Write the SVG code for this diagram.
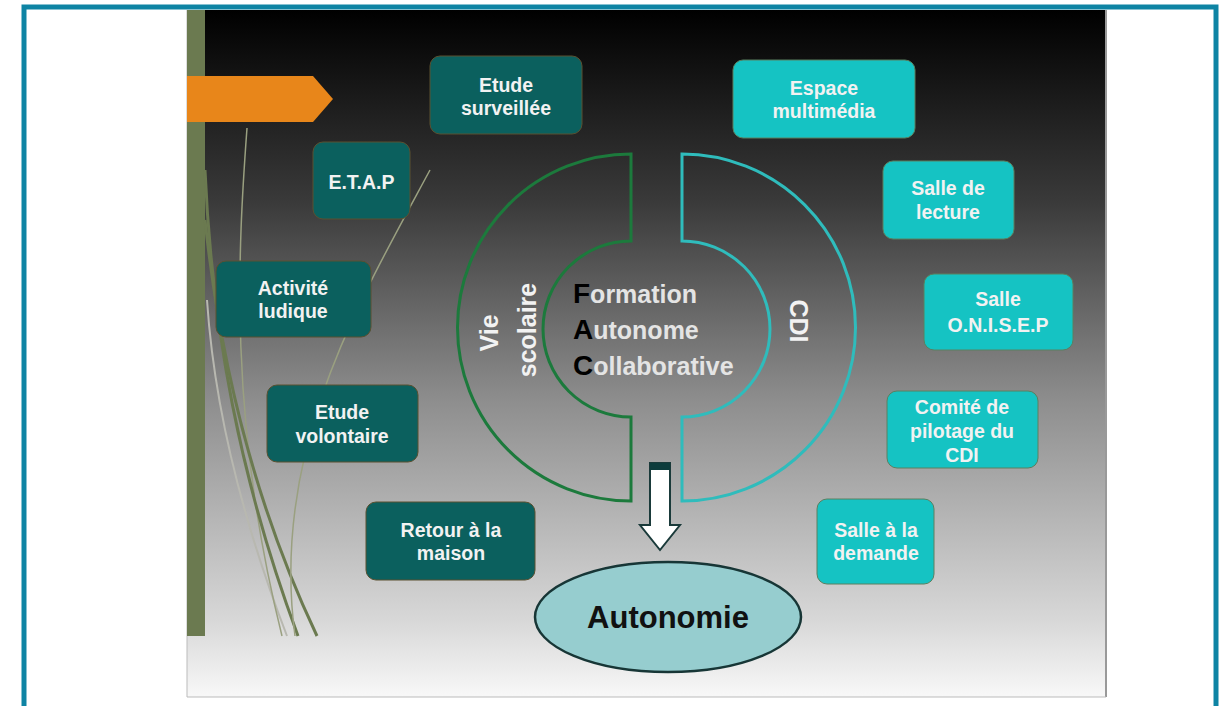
<svg xmlns="http://www.w3.org/2000/svg" width="1225" height="706" viewBox="0 0 1225 706">
<defs>
<linearGradient id="bg" x1="0" y1="0" x2="0" y2="1">
<stop offset="0" stop-color="#000000"/>
<stop offset="0.28" stop-color="#3a3a3a"/>
<stop offset="0.57" stop-color="#8e8e8e"/>
<stop offset="0.89" stop-color="#d8d8d8"/>
<stop offset="1" stop-color="#f8f8f8"/>
</linearGradient>
<style>
.dk rect{fill:#0b605e;stroke:#5a5030;stroke-width:1}
.cy rect{fill:#15c3c3;stroke:#5a8060;stroke-width:1}
.t{font-family:"Liberation Sans",Arial,sans-serif;font-weight:bold;font-size:19.5px;fill:#f2f2f2;text-anchor:middle}
.r{font-family:"Liberation Sans",Arial,sans-serif;font-weight:bold;font-size:25px;fill:#f2f2f2;text-anchor:middle}
.deco{fill:none;stroke:#6b7a50;stroke-width:3}
.deco2{fill:none;stroke:#9aa080;stroke-width:1.5}
.deco3{fill:none;stroke:#b8b8b0;stroke-width:2}
.f{font-family:"Liberation Sans",Arial,sans-serif;font-weight:bold;font-size:25px;fill:#e4e4e4}
.f tspan.k{fill:#000000;font-size:28px}
</style>
</defs>
<rect x="0" y="0" width="1225" height="706" fill="#ffffff"/>
<rect x="187" y="10" width="919" height="687" fill="url(#bg)"/>
<line x1="1106" y1="10" x2="1106" y2="697" stroke="#999" stroke-width="2"/>
<line x1="187" y1="697" x2="1106" y2="697" stroke="#bbb" stroke-width="1"/>
<line x1="187" y1="10" x2="187" y2="697" stroke="#bbb" stroke-width="1"/>
<rect x="187" y="10" width="18" height="626" fill="#6b7a50"/>
<g id="decor">
<path class="deco3" d="M207 300 C 215 420 250 540 287 636"/>
<path class="deco2" d="M247 128 C 238 250 228 420 282 636"/>
<path class="deco" d="M205 170 C 212 330 240 480 298 636"/>
<path class="deco" d="M205 220 C 222 380 262 520 317 636"/>
<path class="deco2" d="M430 170 C 360 300 270 450 295 636"/>
</g>
<polygon id="orange" points="187,76 313,76 333,99 313,122 187,122" fill="#e8861a"/>

<g id="n-etude-surveillee" class="dk"><rect x="430" y="56" width="152" height="78" rx="10"/><text class="t" x="506" y="92">Etude</text><text class="t" x="506" y="115">surveillée</text></g>
<g id="n-etap" class="dk"><rect x="313" y="142" width="97" height="77" rx="10"/><text class="t" x="361.5" y="189">E.T.A.P</text></g>
<g id="n-activite" class="dk"><rect x="216" y="261" width="155" height="76" rx="10"/><text class="t" x="293" y="295">Activité</text><text class="t" x="293" y="318">ludique</text></g>
<g id="n-etude-volontaire" class="dk"><rect x="267" y="385" width="151" height="77" rx="10"/><text class="t" x="342" y="419">Etude</text><text class="t" x="342" y="443">volontaire</text></g>
<g id="n-retour" class="dk"><rect x="366" y="502" width="169" height="78" rx="10"/><text class="t" x="451" y="537">Retour à la</text><text class="t" x="451" y="560">maison</text></g>

<g id="n-espace" class="cy"><rect x="733" y="60" width="182" height="78" rx="10"/><text class="t" x="824" y="95">Espace</text><text class="t" x="824" y="118">multimédia</text></g>
<g id="n-lecture" class="cy"><rect x="883" y="161" width="131" height="78" rx="10"/><text class="t" x="948" y="195">Salle de</text><text class="t" x="948" y="219">lecture</text></g>
<g id="n-onisep" class="cy"><rect x="924" y="274" width="149" height="76" rx="10"/><text class="t" x="998" y="306">Salle</text><text class="t" x="998" y="332">O.N.I.S.E.P</text></g>
<g id="n-comite" class="cy"><rect x="887" y="391" width="151" height="77" rx="10"/><text class="t" x="962" y="414">Comité de</text><text class="t" x="962" y="438">pilotage du</text><text class="t" x="962" y="462">CDI</text></g>
<g id="n-demande" class="cy"><rect x="817" y="499" width="117" height="85" rx="10"/><text class="t" x="876" y="537">Salle à la</text><text class="t" x="876" y="560">demande</text></g>

<g id="n-vie-scolaire">
<path d="M631 154 A173 173 0 0 0 631 501 L631 417 A88 88 0 0 1 631 241 Z" fill="none" stroke="#1c7a3c" stroke-width="3"/>
<text class="r" transform="translate(498,333) rotate(-90)">Vie</text>
<text class="r" transform="translate(536,330) rotate(-90)">scolaire</text>
</g>
<g id="n-cdi">
<path d="M682 154 A173 173 0 0 1 682 501 L682 417 A88 88 0 0 0 682 241 Z" fill="none" stroke="#2fbcbc" stroke-width="3"/>
<text class="r" transform="translate(790,321) rotate(90)">CDI</text>
</g>
<g id="n-fac">
<text class="f" x="573" y="303"><tspan class="k">F</tspan>ormation</text>
<text class="f" x="573" y="339"><tspan class="k">A</tspan>utonome</text>
<text class="f" x="573" y="375"><tspan class="k">C</tspan>ollaborative</text>
</g>
<g id="connectors">
<path d="M650 463 L670 463 L670 525 L680 525 L660 550 L640 525 L650 525 Z" fill="#ffffff" stroke="#1a3a3a" stroke-width="2"/>
<rect x="650" y="463" width="20" height="7" fill="#0d3c3c"/>
</g>
<g id="n-autonomie">
<ellipse cx="668" cy="617" rx="133" ry="55" fill="#96cdcf" stroke="#173636" stroke-width="2.5"/>
<text x="668" y="628" text-anchor="middle" font-family="Liberation Sans, Arial, sans-serif" font-weight="bold" font-size="31" fill="#111">Autonomie</text>
</g>
<rect x="24" y="7" width="1192" height="710" fill="none" stroke="#0e84a4" stroke-width="5"/>
</svg>
